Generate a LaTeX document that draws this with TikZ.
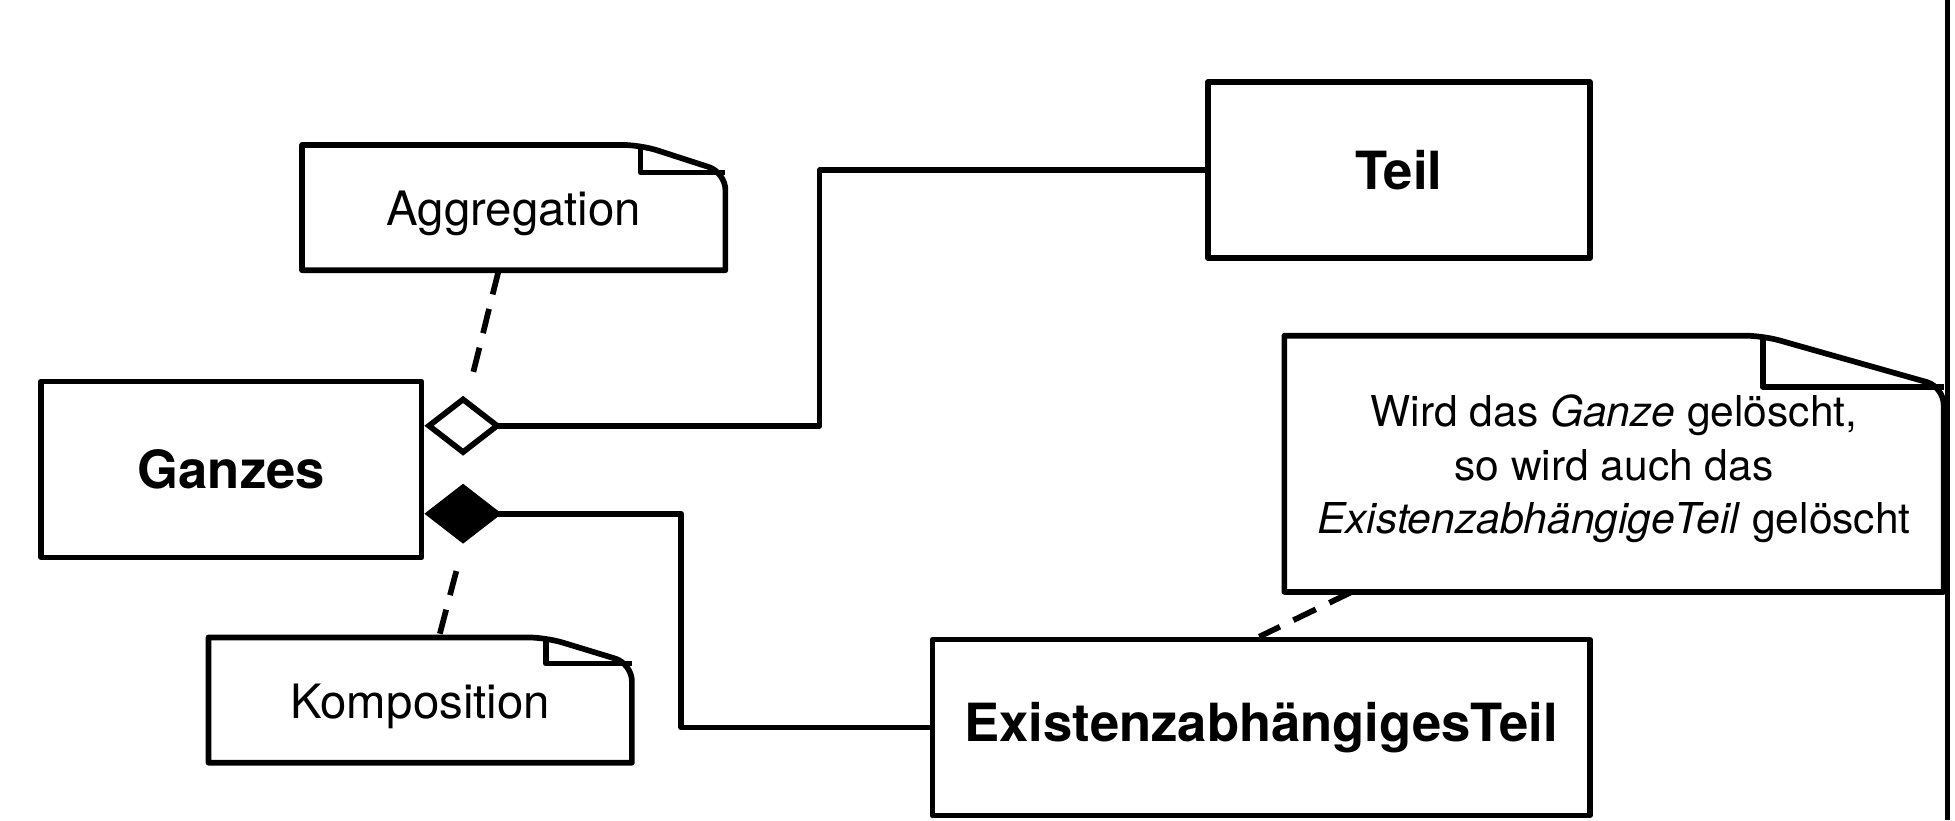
\documentclass[tikz,border=0pt]{standalone}
\usepackage{fontspec}
\setmainfont{TeX Gyre Heros}
\usetikzlibrary{arrows.meta,calc}
\newcommand\NoteOutline[3]{%
  \draw[pen] (#1.north west) [rounded corners=0.14cm] -- ([xshift=-#2]#1.north east) -- ([yshift=-#3]#1.north east) [sharp corners] -- (#1.south east) -- (#1.south west) -- cycle;
  \draw[pen] ([xshift=-#2]#1.north east) -- ([xshift=-#2,yshift=-#3]#1.north east) -- ([yshift=-#3]#1.north east);
}
\begin{document}
\begin{tikzpicture}[x=0.01cm,y=-0.01cm,
  pen/.style={line width=1.3pt, line join=round},
  cls/.style={pen, draw, rectangle, inner sep=0pt, minimum height=1.41cm, font=\fontsize{12}{14}\selectfont\bfseries},
  notebox/.style={rectangle, inner sep=0pt},
  notetext/.style={inner sep=0pt, align=center, font=\fontsize{10.8}{13}\selectfont},
  dashline/.style={pen, dash pattern=on 0.2cm off 0.12cm},
  aggr/.style={pen, {Diamond[open,length=0.62cm,width=0.48cm]}-},
  comp/.style={pen, {Diamond[length=0.62cm,width=0.48cm]}-},
]
\useasboundingbox (0,0) rectangle (1568,658);

% classes
\node[cls, minimum width=3.05cm] (ganzes) at (185.5,376.5) {Ganzes};
\node[cls, minimum width=3.06cm] (teil) at (1122,136.5) {Teil};
\node[cls, minimum width=5.27cm] (ext) at (1011.5,583.5) {ExistenzabhängigesTeil};

% notes
\node[notebox, minimum width=3.38cm, minimum height=0.99cm] (aggnote) at (412,166.5) {};
\node[notebox, minimum width=3.38cm, minimum height=0.99cm] (kompnote) at (337,561.5) {};
\node[notebox, minimum width=5.27cm, minimum height=2.04cm] (bignote) at (1294.5,372) {};
\node[notetext] (aggtext) at ([yshift=-0.045cm]aggnote.center) {Aggregation};
\node[notetext] (komptext) at ([yshift=-0.05cm]kompnote.center) {Komposition};
\node[notetext, font=\fontsize{9.7}{12.2}\selectfont] (bigtext) at ([yshift=-0.04cm]bignote.center)
  {Wird das \textit{Ganze} gelöscht,\\so wird auch das\\\textit{ExistenzabhängigeTeil} gelöscht};
\NoteOutline{aggnote}{0.68cm}{0.22cm}
\NoteOutline{kompnote}{0.69cm}{0.21cm}
\NoteOutline{bignote}{1.45cm}{0.41cm}

% associations
\draw[aggr] ([yshift=0.35cm]ganzes.east) -- ++(317,0) |- (teil.west);
\draw[comp] ([yshift=-0.355cm]ganzes.east) -- ++(206,0) |- (ext.west);

% note anchors
\coordinate (aggend) at (378,305);
\coordinate (compstart) at (366,458);
\draw[dashline] ([xshift=-0.12cm]aggnote.south) -- (aggend);
\draw[dashline] (compstart) -- ([xshift=0.15cm]kompnote.north);
\draw[dashline] ([xshift=0.54cm]bignote.south west) -- ([xshift=-0.015cm]ext.north);

% right border line
\draw[pen] (1562,0) -- (1562,658);
\end{tikzpicture}
\end{document}
